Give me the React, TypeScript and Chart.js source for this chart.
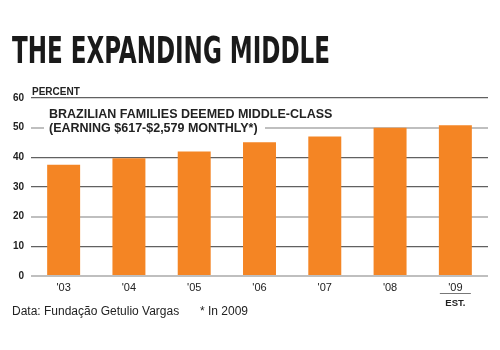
import React, { useEffect, useRef } from "react";
import { Chart, registerables } from "chart.js";

Chart.register(...registerables);

const categories: string[] = ["'03", "'04", "'05", "'06", "'07", "'08", "'09"];
const middleClassShare: number[] = [37.5, 39.7, 42.0, 45.1, 47.0, 50.0, 50.8];
const yTicks: number[] = [0, 10, 20, 30, 40, 50, 60];
const lightGridValues: number[] = [0, 20, 50];

const titleText = "THE EXPANDING MIDDLE";
const unitText = "PERCENT";
const noteLines: string[] = [
  "BRAZILIAN FAMILIES DEEMED MIDDLE-CLASS",
  "(EARNING $617-$2,579 MONTHLY*)",
];
const estText = "EST.";
const sourceText = "Data: Fundação Getulio Vargas";
const footnoteText = "* In 2009";

const SANS = "'Liberation Sans', Arial, Helvetica, sans-serif";

const annotations = {
  id: "annotations",
  afterDraw(chart: any) {
    const ctx = chart.ctx as CanvasRenderingContext2D;
    const area = chart.chartArea;
    const x = chart.scales.x;
    ctx.save();

    // Title, condensed to fit
    ctx.fillStyle = "#1a1a1a";
    ctx.textBaseline = "alphabetic";
    ctx.textAlign = "left";
    ctx.font = "bold 37px 'Liberation Sans Narrow', 'DejaVu Sans Condensed', " + SANS;
    const tw = ctx.measureText(titleText).width;
    const targetW = 318;
    ctx.save();
    ctx.translate(12, 63);
    ctx.scale(targetW / tw, 1);
    ctx.fillText(titleText, 0, 0);
    ctx.restore();

    // Unit label
    ctx.font = "bold 10px " + SANS;
    ctx.fillStyle = "#222";
    ctx.fillText(unitText, 32, 94.5);

    // Note box
    ctx.fillStyle = "#ffffff";
    ctx.fillRect(44, 103, 221, 33);
    ctx.fillStyle = "#222";
    ctx.font = "bold 12.5px " + SANS;
    ctx.fillText(noteLines[0], 49, 118);
    ctx.fillText(noteLines[1], 49, 132);

    // EST. under last label
    const lastX = x.getPixelForValue(categories.length - 1);
    ctx.strokeStyle = "#777";
    ctx.lineWidth = 1;
    ctx.beginPath();
    ctx.moveTo(lastX - 15.5, 293.5);
    ctx.lineTo(lastX + 15.5, 293.5);
    ctx.stroke();
    ctx.textAlign = "center";
    ctx.font = "bold 9.5px " + SANS;
    ctx.fillStyle = "#222";
    ctx.fillText(estText, lastX, 306);

    // Source
    ctx.textAlign = "left";
    ctx.font = "12px " + SANS;
    ctx.fillStyle = "#222";
    ctx.fillText(sourceText, 12, 314.5);
    ctx.fillText(footnoteText, 200, 314.5);

    ctx.restore();
  },
};

export default function App() {
  const canvasRef = useRef<HTMLCanvasElement | null>(null);

  useEffect(() => {
    const canvas = canvasRef.current;
    if (!canvas) return;
    const chart = new Chart(canvas, {
      type: "bar",
      data: {
        labels: categories,
        datasets: [
          {
            data: middleClassShare,
            backgroundColor: "#F48524",
            borderWidth: 0,
            barPercentage: 0.505,
            categoryPercentage: 1,
          },
        ],
      },
      options: {
        responsive: false,
        animation: false,
        devicePixelRatio: 1,
        layout: { padding: { top: 98, right: 12, bottom: 0, left: 0 } },
        plugins: {
          legend: { display: false },
          tooltip: { enabled: false },
          title: { display: false },
        },
        scales: {
          x: {
            grid: { display: false, drawTicks: false },
            border: { display: false },
            ticks: {
              color: "#222",
              font: { family: SANS, size: 11 },
              padding: 5,
              maxRotation: 0,
            },
            afterFit(scale: any) {
              scale.height = 74;
            },
          },
          y: {
            min: 0,
            max: 60,
            z: 1,
            afterBuildTicks(scale: any) {
              scale.ticks = yTicks.map((v) => ({ value: v }));
            },
            grid: {
              drawTicks: false,
              color: (c: any) =>
                lightGridValues.includes(c.tick?.value) ? "rgba(0,0,0,0.25)" : "rgba(0,0,0,0.62)",
              lineWidth: (c: any) => (lightGridValues.includes(c.tick?.value) ? 2 : 1.2),
            },
            border: { display: false },
            ticks: {
              color: "#222",
              font: { family: SANS, size: 10, weight: "bold" },
              padding: 7,
            },
            afterFit(scale: any) {
              scale.width = 31;
            },
          },
        },
      },
      plugins: [annotations],
    });
    return () => chart.destroy();
  }, []);

  return (
    <div style={{ position: "absolute", left: 0, top: 0, width: 500, height: 350, background: "#fff" }}>
      <canvas ref={canvasRef} width={500} height={350} />
    </div>
  );
}
